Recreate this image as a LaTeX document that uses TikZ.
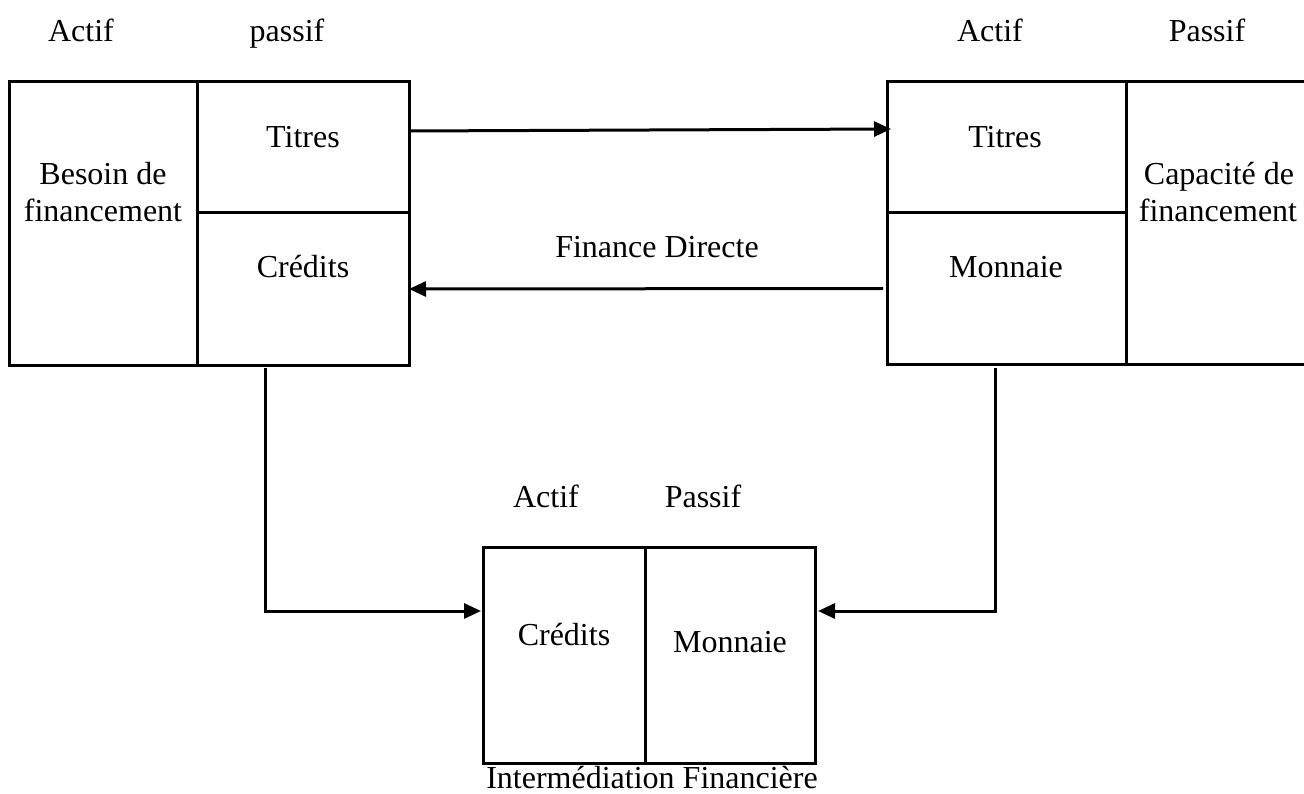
\documentclass[tikz,border=0pt]{standalone}
\usepackage{fontspec}
\setmainfont{Liberation Serif}
\usetikzlibrary{arrows.meta}
\begin{document}
\begin{tikzpicture}[x=1pt,y=-1pt,
  cell/.style={draw,line width=3pt,inner sep=0pt,outer sep=0pt,rectangle,anchor=north west},
  lbl/.style={font=\fontsize{32}{36}\selectfont,anchor=base,inner sep=0pt},
  conn/.style={line width=3pt,-{Triangle[length=17pt,width=15pt]}}]
\useasboundingbox (0,0) rectangle (1304,794);
% left box
\node[cell,minimum width=187.5pt,minimum height=283pt] (besoin) at (9.5,82) {};
\node[cell,minimum width=212pt,minimum height=131pt] (titresL) at (197,82) {};
\node[cell,minimum width=212pt,minimum height=152pt] (creditsL) at (197,213) {};
% right box
\node[cell,minimum width=239pt,minimum height=131pt] (titresR) at (887,82) {};
\node[cell,minimum width=239pt,minimum height=151pt] (monnaieR) at (887,213) {};
\node[cell,minimum width=190pt,minimum height=282pt] (capacite) at (1126,82) {};
% bottom box
\node[cell,minimum width=162pt,minimum height=216pt] (creditsB) at (483,547) {};
\node[cell,minimum width=170pt,minimum height=216pt] (monnaieB) at (645,547) {};
% labels
\node[lbl] (actifL) at (81,42) {Actif};
\node[lbl] (passifL) at (287,42) {passif};
\node[lbl] (actifR) at (990,42) {Actif};
\node[lbl] (passifR) at (1207,42) {Passif};
\node[lbl] (tL) at (303,148) {Titres};
\node[lbl] (cL) at (303,278) {Crédits};
\node[lbl] (bA) at (103,185) {Besoin de};
\node[lbl] (bB) at (103,222) {financement};
\node[lbl] (tR) at (1005,148) {Titres};
\node[lbl] (mR) at (1006,278) {Monnaie};
\node[lbl] (capA) at (1219,185) {Capacité de};
\node[lbl] (capB) at (1218,222) {financement};
\node[lbl] (actifB) at (546,507) {Actif};
\node[lbl] (passifB) at (703,507) {Passif};
\node[lbl] (cB) at (564,645) {Crédits};
\node[lbl] (mB) at (730,652) {Monnaie};
\node[lbl] (inter) at (652,788) {Intermédiation Financière};
\node[lbl] (fd) at (657,258) {Finance Directe};
% connectors
\draw[conn] ([yshift=16.5pt]titresL.east) -- ([xshift=4pt,yshift=18.5pt]titresR.west);
\draw[conn] ([xshift=-4pt]monnaieR.west) -- (creditsL.east);
\coordinate (lstart) at (265,368);
\coordinate (rstart) at (995,368);
\draw[conn] (lstart) |- ([xshift=-2pt,yshift=44pt]creditsB.west);
\draw[conn] (rstart) |- ([xshift=3pt,yshift=44pt]monnaieB.east);
\end{tikzpicture}
\end{document}
